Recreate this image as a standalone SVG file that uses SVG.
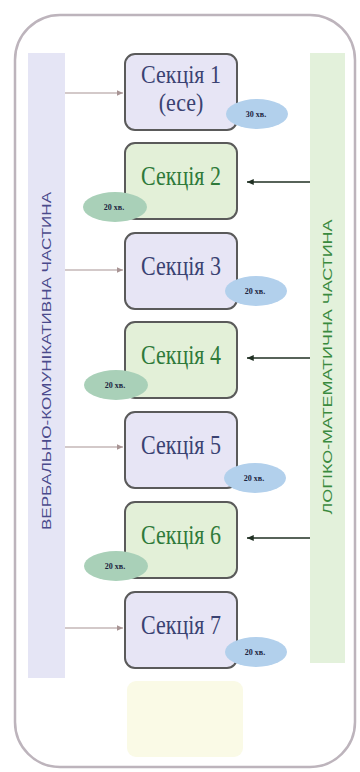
<svg xmlns="http://www.w3.org/2000/svg" width="360" height="772" viewBox="0 0 360 772">
<defs>
<style>
.box{stroke:#5a5a5a;stroke-width:2}
.odd{fill:#e7e5f5}
.even{fill:#e3f0d8}
.t{font-family:"Liberation Serif","DejaVu Serif","Times New Roman",serif;font-size:22px;text-anchor:middle}
.todd{fill:#3a4272}
.teven{fill:#2f7a3a}
.bb{fill:#b2d0ec}
.bg{fill:#a9d0b8}
.bt{font-family:"Liberation Serif","DejaVu Serif",serif;font-size:8px;font-weight:bold;fill:#1c2440;text-anchor:middle}
.la{stroke:#a89494;stroke-width:1.2;fill:none}
.ra{stroke:#1f2f22;stroke-width:1.5;fill:none}
.vt{font-family:"Liberation Sans",Arial,sans-serif;font-size:13px;text-anchor:middle}
</style>
<marker id="ah1" viewBox="0 0 10 10" refX="9" refY="5" markerWidth="6" markerHeight="6" orient="auto">
<path d="M0,1 L9,5 L0,9 z" fill="#a89494"/>
</marker>
<marker id="ah2" viewBox="0 0 10 10" refX="9" refY="5" markerWidth="5" markerHeight="5" orient="auto">
<path d="M0,1 L9,5 L0,9 z" fill="#1f2f22"/>
</marker>
</defs>
<rect x="15" y="15" width="340" height="752" rx="45" fill="#ffffff" stroke="#bdb4bc" stroke-width="2.5"/>
<g id="verbal">
<rect x="28" y="53" width="37" height="625" fill="#e5e5f5"/>
<text class="vt" fill="#4a4a8c" transform="translate(51,361) rotate(-90)" textLength="338" lengthAdjust="spacingAndGlyphs">ВЕРБАЛЬНО-КОМУНІКАТИВНА ЧАСТИНА</text>
</g>
<g id="logic">
<rect x="310" y="53" width="35" height="610" fill="#e3f1db"/>
<text class="vt" fill="#3a8a3e" transform="translate(332,367) rotate(-90)" textLength="295" lengthAdjust="spacingAndGlyphs">ЛОГІКО-МАТЕМАТИЧНА ЧАСТИНА</text>
</g>
<g id="connectors">
<line class="la" x1="65" y1="93" x2="123" y2="93" marker-end="url(#ah1)"/>
<line class="la" x1="65" y1="270" x2="123" y2="270" marker-end="url(#ah1)"/>
<line class="la" x1="65" y1="447" x2="123" y2="447" marker-end="url(#ah1)"/>
<line class="la" x1="65" y1="628" x2="123" y2="628" marker-end="url(#ah1)"/>
<line class="ra" x1="310" y1="182" x2="247" y2="182" marker-end="url(#ah2)"/>
<line class="ra" x1="310" y1="358" x2="247" y2="358" marker-end="url(#ah2)"/>
<line class="ra" x1="310" y1="538" x2="247" y2="538" marker-end="url(#ah2)"/>
</g>
<g id="s1">
<rect class="box odd" x="125" y="54" width="112" height="76" rx="10"/>
<text class="t todd" transform="translate(181,83) scale(1,1.12)" font-size="21">Секція 1</text>
<text class="t todd" transform="translate(181,111) scale(1,1.12)" font-size="17">(есе)</text>
<ellipse class="bb" cx="257" cy="114" rx="31" ry="15"/>
<text class="bt" x="256" y="117">30 хв.</text>
</g>
<g id="s2">
<rect class="box even" x="125" y="143" width="112" height="76" rx="10"/>
<text class="t teven" transform="translate(181,185) scale(1,1.2)">Секція 2</text>
<ellipse class="bg" cx="115" cy="207" rx="32" ry="15"/>
<text class="bt" x="114" y="210">20 хв.</text>
</g>
<g id="s3">
<rect class="box odd" x="125" y="233" width="112" height="76" rx="10"/>
<text class="t todd" transform="translate(181,275) scale(1,1.2)">Секція 3</text>
<ellipse class="bb" cx="256" cy="291" rx="31" ry="15"/>
<text class="bt" x="255" y="294">20 хв.</text>
</g>
<g id="s4">
<rect class="box even" x="125" y="322" width="112" height="76" rx="10"/>
<text class="t teven" transform="translate(181,364) scale(1,1.2)">Секція 4</text>
<ellipse class="bg" cx="116" cy="385" rx="32" ry="15"/>
<text class="bt" x="115" y="388">20 хв.</text>
</g>
<g id="s5">
<rect class="box odd" x="125" y="412" width="112" height="76" rx="10"/>
<text class="t todd" transform="translate(181,454) scale(1,1.2)">Секція 5</text>
<ellipse class="bb" cx="255" cy="478" rx="31" ry="15"/>
<text class="bt" x="254" y="481">20 хв.</text>
</g>
<g id="s6">
<rect class="box even" x="125" y="502" width="112" height="76" rx="10"/>
<text class="t teven" transform="translate(181,544) scale(1,1.2)">Секція 6</text>
<ellipse class="bg" cx="116" cy="566" rx="32" ry="15"/>
<text class="bt" x="115" y="569">20 хв.</text>
</g>
<g id="s7">
<rect class="box odd" x="125" y="592" width="112" height="76" rx="10"/>
<text class="t todd" transform="translate(181,634) scale(1,1.2)">Секція 7</text>
<ellipse class="bb" cx="256" cy="652" rx="31" ry="15"/>
<text class="bt" x="255" y="655">20 хв.</text>
</g>
<g id="blank">
<rect x="127" y="681" width="116" height="76" rx="9" fill="#fafae6"/>
</g>
</svg>
